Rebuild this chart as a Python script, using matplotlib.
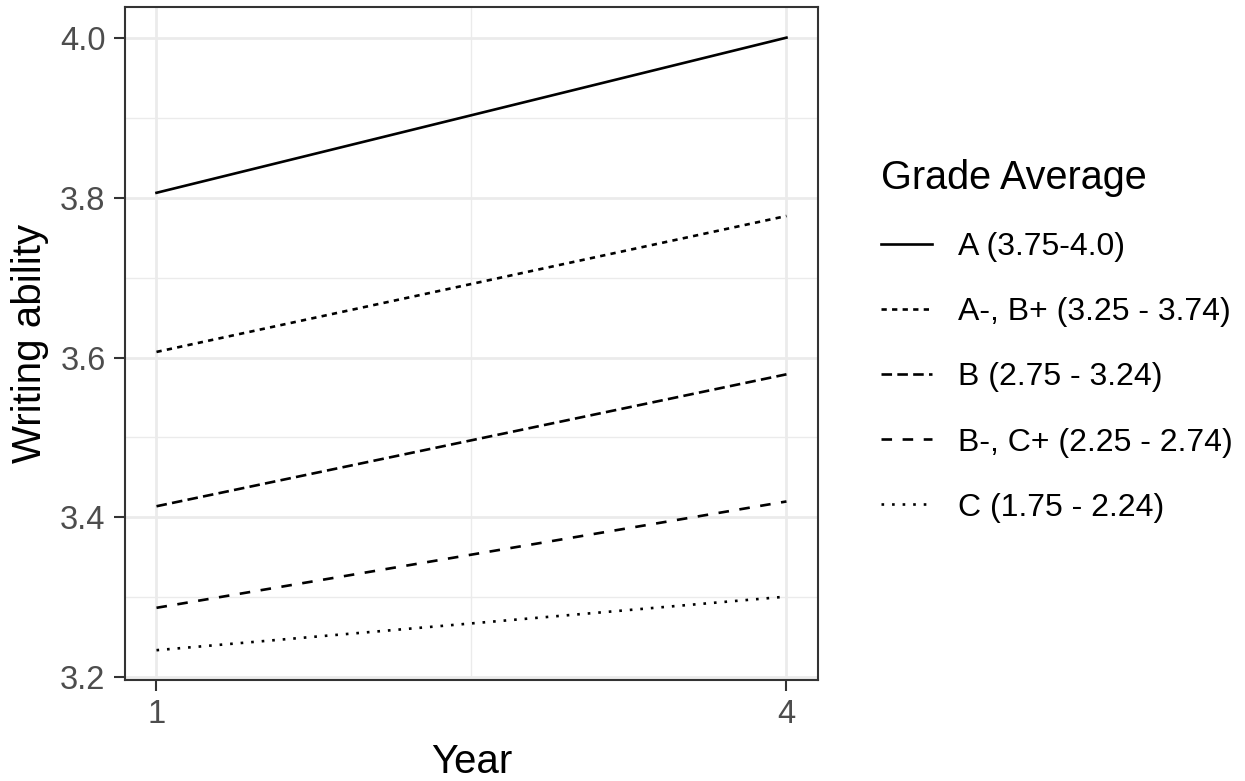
import matplotlib
matplotlib.use("Agg")
import matplotlib.pyplot as plt

plt.rcParams["font.family"] = ["Liberation Sans", "DejaVu Sans"]

# data
years = [1, 4]
groups = ["A (3.75-4.0)", "A-, B+ (3.25 - 3.74)", "B (2.75 - 3.24)",
          "B-, C+ (2.25 - 2.74)", "C (1.75 - 2.24)"]
values = [
    [3.806, 4.000],
    [3.607, 3.777],
    [3.414, 3.579],
    [3.287, 3.420],
    [3.234, 3.301],
]
styles = ["-", (0, (2, 2)), (0, (4, 2)), (0, (4, 4)), (0, (1, 3))]

fig = plt.figure(figsize=(12.45, 7.81), dpi=100)
ax = fig.add_axes([0.1004, 0.1293, 0.5566, 0.8617])

for lab, vals, ls in zip(groups, values, styles):
    ax.plot(years, vals, color="black", lw=1.9, linestyle=ls, label=lab)

ax.set_xlim(0.85, 4.15)
ax.set_ylim(3.1967, 4.0383)
ax.set_xticks([1, 4])
ax.set_yticks([3.2, 3.4, 3.6, 3.8, 4.0])
ax.set_yticklabels(["3.2", "3.4", "3.6", "3.8", "4.0"])
ax.set_xticks([2.5], minor=True)
ax.set_yticks([3.3, 3.5, 3.7, 3.9], minor=True)
ax.grid(True, which="major", color="#EBEBEB", lw=2)
ax.grid(True, which="minor", color="#EBEBEB", lw=1)
ax.set_axisbelow(True)
ax.tick_params(which="major", length=8, width=1.5, color="#333333",
               labelcolor="#4D4D4D", labelsize=23.5, pad=6)
ax.tick_params(which="minor", length=0)
for s in ax.spines.values():
    s.set_color("#333333")
    s.set_linewidth(1.5)

ax.set_xlabel("Year", fontsize=29, labelpad=9)
ax.set_ylabel("Writing ability", fontsize=29, labelpad=8)

leg = ax.legend(loc="upper left", bbox_to_anchor=(865 / 1245, 1 - 143 / 781),
                bbox_transform=fig.transFigure, frameon=False, borderpad=0,
                title="Grade Average", title_fontsize=28.5, fontsize=23,
                handlelength=1.6, handletextpad=0.8, labelspacing=1.1)
leg._legend_box.align = "left"

fig.savefig("out.png", dpi=100)
